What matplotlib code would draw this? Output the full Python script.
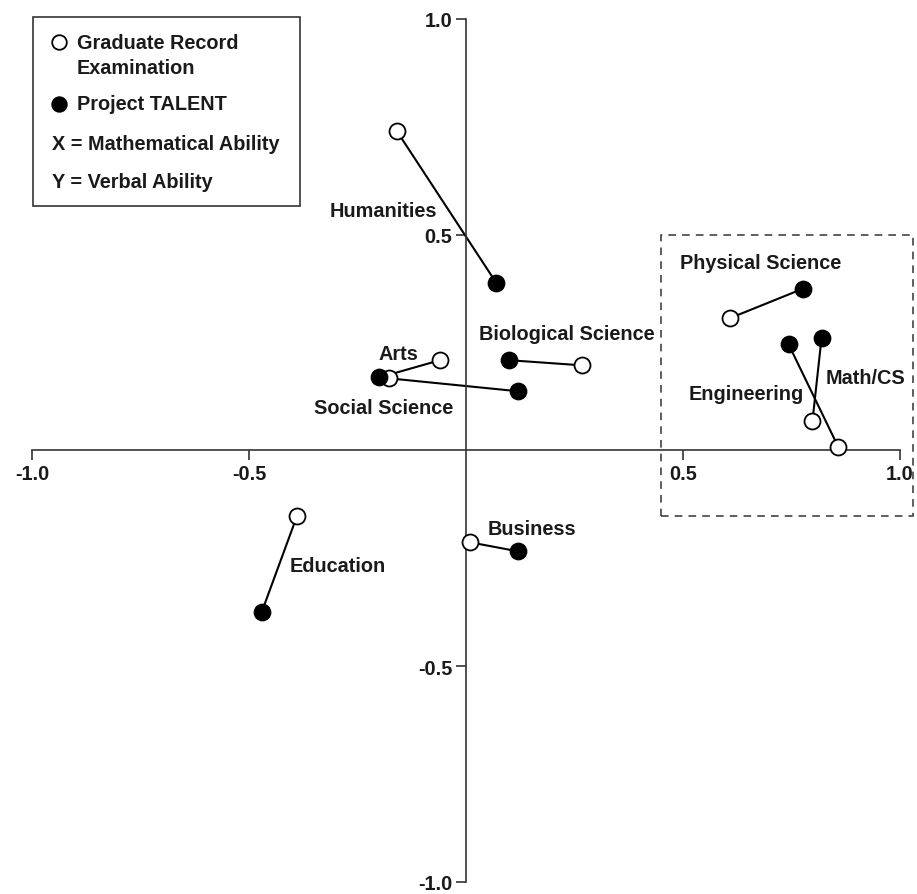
import matplotlib
matplotlib.use("Agg")
import matplotlib.pyplot as plt
from matplotlib.patches import Rectangle
from matplotlib.lines import Line2D

plt.rcParams['font.family'] = ['Liberation Sans', 'DejaVu Sans']
plt.rcParams['font.weight'] = 'bold'

# field groups: GRE (open) and Project TALENT (filled) positions
fields = ['Humanities', 'Arts', 'Social Science', 'Biological Science',
          'Physical Science', 'Engineering', 'Math/CS', 'Education', 'Business']
gre_x = [-0.159, -0.060, -0.178, 0.268, 0.607, 0.858, 0.798, -0.390, 0.009]
gre_y = [0.739, 0.209, 0.167, 0.197, 0.306, 0.007, 0.067, -0.153, -0.213]
talent_x = [0.069, -0.200, 0.120, 0.099, 0.777, 0.743, 0.819, -0.471, 0.120]
talent_y = [0.389, 0.169, 0.137, 0.209, 0.375, 0.246, 0.260, -0.375, -0.234]

# label anchor points (centre of text)
label_x = [-0.190, -0.157, -0.190, 0.231, 0.678, 0.646, 0.920, -0.295, 0.152]
label_y = [0.556, 0.225, 0.100, 0.271, 0.436, 0.132, 0.169, -0.267, -0.181]

ticks = [-1.0, -0.5, 0.5, 1.0]
tick_labels = ['-1.0', '-0.5', '0.5', '1.0']

# dashed region around the math/science fields
box_x0, box_x1 = 0.45, 1.03
box_y0, box_y1 = -0.152, 0.50

FS = 14.3
TXT = '#1a1a1a'

fig = plt.figure(figsize=(9.17, 8.95), dpi=100)
ax = fig.add_axes([0, 0, 1, 1])
ax.set_xlim(-1.074, 1.039)
ax.set_ylim(-1.028, 1.046)

for s in ['top', 'right']:
    ax.spines[s].set_visible(False)
ax.spines['left'].set_position(('data', 0))
ax.spines['bottom'].set_position(('data', 0))
ax.spines['left'].set_bounds(-1, 1)
ax.spines['bottom'].set_bounds(-1, 1)
for s in ['left', 'bottom']:
    ax.spines[s].set_color('#333333')
    ax.spines[s].set_linewidth(1.2)

ax.set_xticks(ticks)
ax.set_xticklabels(tick_labels)
ax.set_yticks(ticks)
ax.set_yticklabels(tick_labels)
ax.tick_params(axis='both', direction='out', length=7, width=1.2,
               color='#333333', labelsize=FS, labelcolor=TXT, pad=3)
for lab in ax.get_xticklabels() + ax.get_yticklabels():
    lab.set_fontweight('bold')

for gx, gy, tx, ty in zip(gre_x, gre_y, talent_x, talent_y):
    ax.plot([gx, tx], [gy, ty], color='black', lw=1.5, zorder=2)
ax.plot(gre_x, gre_y, 'o', ls='none', ms=11.5, mfc='white', mec='black', mew=1.3, zorder=3)
ax.plot(talent_x, talent_y, 'o', ls='none', ms=11.5, mfc='black', mec='black', mew=1.3, zorder=3)

for name, lx, ly in zip(fields, label_x, label_y):
    ax.text(lx, ly, name, ha='center', va='center', fontsize=FS,
            fontweight='bold', color=TXT)

ax.add_patch(Rectangle((box_x0, box_y0), box_x1 - box_x0, box_y1 - box_y0,
                       fill=False, ls=(0, (5, 4)), lw=1.1, ec='#333333',
                       clip_on=False))

# legend box (figure pixel coordinates, origin top-left)
W, H = 917, 895
def fx(px):
    return px / W
def fy(py):
    return 1 - py / H

fig.patches.append(Rectangle((fx(33), fy(207)), fx(300) - fx(33), fy(18) - fy(207),
                             transform=fig.transFigure, fill=False, ec='#333333', lw=1.2))
fig.lines.append(Line2D([fx(59)], [fy(43)], marker='o', ms=10.5, mfc='white', mec='black',
                        mew=1.3, transform=fig.transFigure))
fig.lines.append(Line2D([fx(59)], [fy(105)], marker='o', ms=10.5, mfc='black', mec='black',
                        mew=1.3, transform=fig.transFigure))
fig.text(fx(77), fy(56), 'Graduate Record\nExamination', ha='left', va='center',
         fontsize=FS, fontweight='bold', color=TXT, linespacing=1.35)
fig.text(fx(77), fy(105), 'Project TALENT', ha='left', va='center',
         fontsize=FS, fontweight='bold', color=TXT)
fig.text(fx(52), fy(145), 'X = Mathematical Ability', ha='left', va='center',
         fontsize=FS, fontweight='bold', color=TXT)
fig.text(fx(52), fy(182), 'Y = Verbal Ability', ha='left', va='center',
         fontsize=FS, fontweight='bold', color=TXT)

fig.savefig('out.png', dpi=100)
